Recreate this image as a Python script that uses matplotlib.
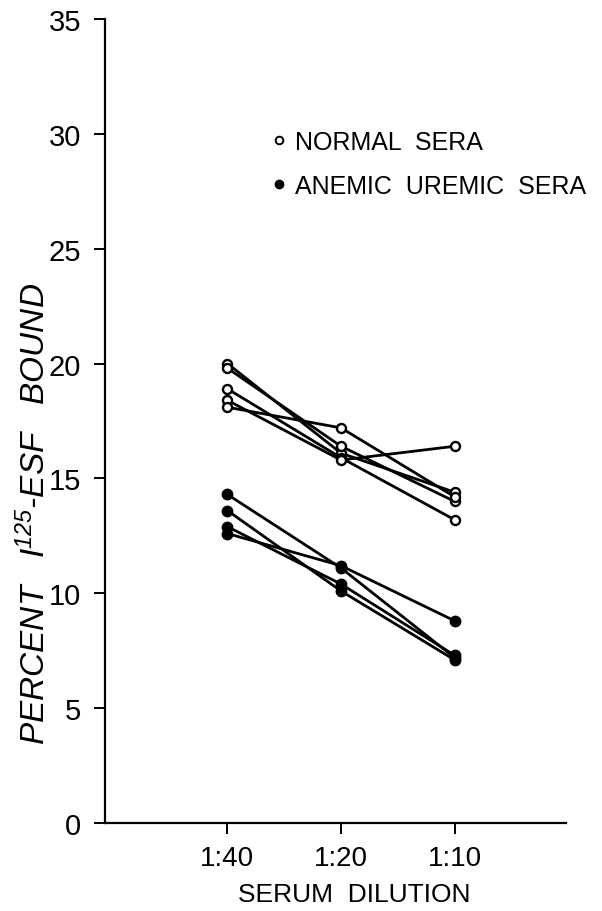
import matplotlib
matplotlib.use("Agg")
import matplotlib.pyplot as plt
from matplotlib.lines import Line2D

# serum dilutions along the x axis
dilutions = ['1:40', '1:20', '1:10']
x_pos = [1, 2, 3]

# percent bound, one row per serum sample
normal_sera = [
    [20.0, 16.1, 14.4],
    [19.8, 16.4, 14.0],
    [18.9, 15.9, 13.2],
    [18.4, 15.8, 16.4],
    [18.1, 17.2, 14.2],
]
anemic_uremic_sera = [
    [14.3, 11.1, 7.2],
    [13.6, 10.1, 7.1],
    [12.9, 10.4, 7.3],
    [12.6, 11.2, 8.8],
]

y_ticks = [0, 5, 10, 15, 20, 25, 30, 35]

family = 'Liberation Sans'
plt.rcParams.update({
    'font.family': [family, 'DejaVu Sans'],
    'mathtext.fontset': 'custom',
    'mathtext.rm': family + ':italic',
    'mathtext.it': family + ':italic',
    'axes.linewidth': 1.6,
})

fig = plt.figure(figsize=(6.02, 9.12), dpi=100)
ax = fig.add_axes([0.174, 0.0965, 0.766, 0.8816])

for row in normal_sera:
    ax.plot(x_pos, row, color='black', linewidth=2.0, marker='o',
            markersize=6.5, markerfacecolor='white', markeredgecolor='black',
            markeredgewidth=1.7)

for row in anemic_uremic_sera:
    ax.plot(x_pos, row, color='black', linewidth=2.0, marker='o',
            markersize=7.5, markerfacecolor='black', markeredgecolor='black')

ax.set_xlim(-0.08, 3.98)
ax.set_ylim(0, 35)
ax.set_xticks(x_pos)
ax.set_xticklabels(dilutions)
ax.set_yticks(y_ticks)

ax.spines['top'].set_visible(False)
ax.spines['right'].set_visible(False)
ax.tick_params(axis='both', direction='out', length=8, width=1.4)
ax.tick_params(axis='y', pad=9, labelsize=21)
ax.tick_params(axis='x', pad=8, labelsize=20)

ax.set_ylabel(r'PERCENT   I$^{125}$-ESF   BOUND', fontsize=24, style='italic',
              va='center')
ax.yaxis.set_label_coords(-0.152, 0.385)
ax.set_xlabel('SERUM  DILUTION', fontsize=19)
ax.xaxis.set_label_coords(0.54, -0.073)

handles = [
    Line2D([], [], linestyle='none', marker='o', markersize=5.5,
           markerfacecolor='white', markeredgecolor='black', markeredgewidth=1.4),
    Line2D([], [], linestyle='none', marker='o', markersize=6,
           markerfacecolor='black', markeredgecolor='black'),
]
ax.legend(handles, ['NORMAL  SERA', 'ANEMIC  UREMIC  SERA'],
          loc='upper left', bbox_to_anchor=(0.362, 0.862),
          frameon=False, fontsize=18, handlelength=0.6, handletextpad=0.35,
          labelspacing=0.8, borderpad=0, borderaxespad=0)

fig.savefig('out.png', dpi=100, facecolor='white')
